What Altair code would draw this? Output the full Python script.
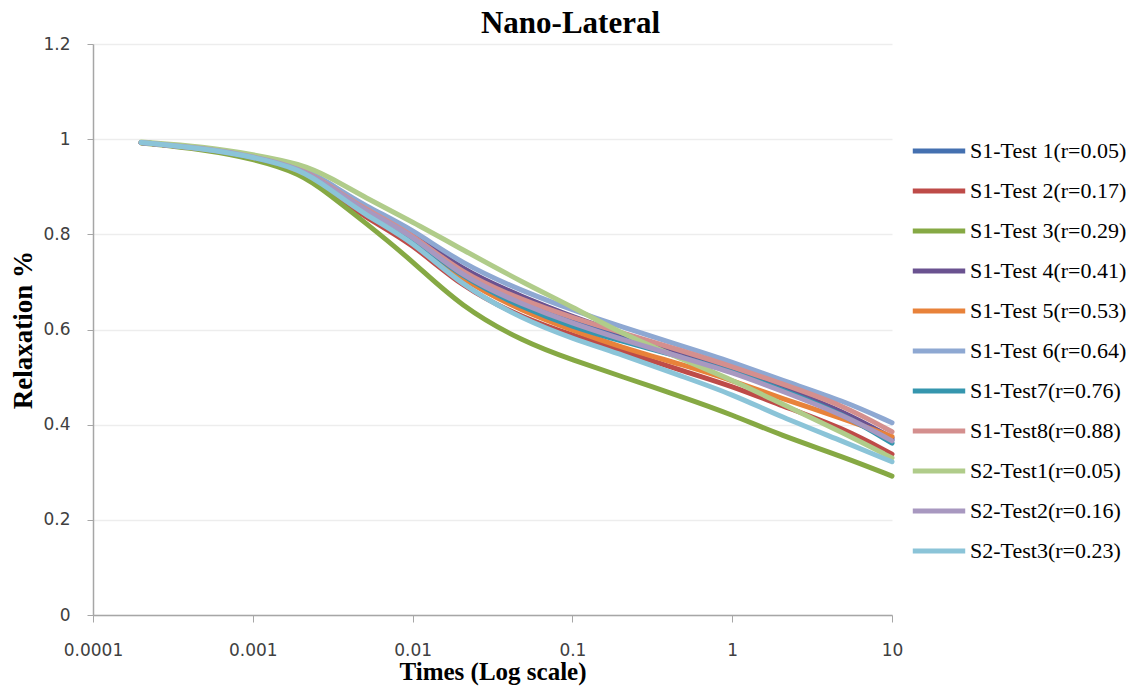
import altair as alt
import pandas as pd

times = [0.0002, 0.0005, 0.001, 0.002, 0.003, 0.005, 0.01, 0.02, 0.05, 0.1, 0.2, 0.5, 1, 2, 5, 10]

series_names = [
    "S1-Test 1(r=0.05)", "S1-Test 2(r=0.17)", "S1-Test 3(r=0.29)", "S1-Test 4(r=0.41)",
    "S1-Test 5(r=0.53)", "S1-Test 6(r=0.64)", "S1-Test7(r=0.76)", "S1-Test8(r=0.88)",
    "S2-Test1(r=0.05)", "S2-Test2(r=0.16)", "S2-Test3(r=0.23)",
]

colors = ["#4470B0", "#BE4B48", "#86A944", "#6A5290", "#E8823A", "#8EA8D2",
          "#3596AE", "#D48F8E", "#B0CC8A", "#A898C0", "#8BC4D8"]

s1_t1 = [0.993, 0.981, 0.964, 0.940, 0.903, 0.853, 0.798, 0.714, 0.655, 0.616, 0.585, 0.545, 0.512, 0.476, 0.425, 0.368]
s1_t2 = [0.993, 0.980, 0.962, 0.935, 0.893, 0.836, 0.781, 0.690, 0.623, 0.588, 0.556, 0.512, 0.481, 0.441, 0.392, 0.338]
s1_t3 = [0.992, 0.978, 0.959, 0.928, 0.884, 0.826, 0.744, 0.648, 0.573, 0.536, 0.502, 0.457, 0.421, 0.378, 0.332, 0.292]
s1_t4 = [0.993, 0.981, 0.964, 0.941, 0.906, 0.857, 0.806, 0.725, 0.667, 0.627, 0.592, 0.550, 0.518, 0.480, 0.428, 0.372]
s1_t5 = [0.993, 0.980, 0.963, 0.937, 0.898, 0.846, 0.791, 0.704, 0.637, 0.599, 0.563, 0.525, 0.493, 0.456, 0.412, 0.375]
s1_t6 = [0.993, 0.982, 0.965, 0.943, 0.908, 0.860, 0.811, 0.739, 0.679, 0.641, 0.606, 0.564, 0.532, 0.494, 0.450, 0.404]
s1_t7 = [0.993, 0.981, 0.963, 0.938, 0.899, 0.848, 0.794, 0.711, 0.644, 0.606, 0.576, 0.540, 0.512, 0.475, 0.422, 0.361]
s1_t8 = [0.993, 0.981, 0.964, 0.940, 0.903, 0.853, 0.801, 0.718, 0.660, 0.625, 0.594, 0.554, 0.522, 0.487, 0.440, 0.385]
s2_t1 = [0.994, 0.984, 0.968, 0.948, 0.921, 0.878, 0.826, 0.770, 0.697, 0.648, 0.592, 0.536, 0.494, 0.445, 0.382, 0.330]
s2_t2 = [0.993, 0.981, 0.964, 0.939, 0.901, 0.850, 0.799, 0.711, 0.651, 0.613, 0.580, 0.540, 0.510, 0.472, 0.420, 0.366]
s2_t3 = [0.993, 0.980, 0.963, 0.937, 0.896, 0.841, 0.786, 0.693, 0.620, 0.581, 0.548, 0.500, 0.464, 0.417, 0.364, 0.322]

all_values = [s1_t1, s1_t2, s1_t3, s1_t4, s1_t5, s1_t6, s1_t7, s1_t8, s2_t1, s2_t2, s2_t3]

x_ticks = [0.0001, 0.001, 0.01, 0.1, 1, 10]
y_ticks = [0, 0.2, 0.4, 0.6, 0.8, 1.0, 1.2]

rows = []
for name, vals in zip(series_names, all_values):
    for i, (t, v) in enumerate(zip(times, vals)):
        rows.append({"series": name, "time": t, "value": v, "idx": i})
df = pd.DataFrame(rows)

chart = alt.Chart(df).mark_line(
    interpolate="basis", strokeWidth=5, strokeCap="round", strokeJoin="round"
).encode(
    x=alt.X("time:Q",
            scale=alt.Scale(type="log", domain=[0.0001, 10], nice=False),
            axis=alt.Axis(values=x_ticks, format="~g", grid=False,
                          title="Times (Log scale)", titleFont="Liberation Serif",
                          titleFontSize=25, titleFontWeight="bold", titleColor="black",
                          titleBaseline="alphabetic", titleY=64,
                          labelFont="DejaVu Sans", labelFontSize=17, labelColor="#404040",
                          tickSize=7, labelPadding=20, tickColor="#A6A6A6",
                          domainColor="#A6A6A6", domainWidth=1.5, labelFlush=False)),
    y=alt.Y("value:Q",
            scale=alt.Scale(domain=[0, 1.2], nice=False),
            axis=alt.Axis(values=y_ticks, format="~g", grid=True, gridColor="#EDEDED",
                          gridWidth=1.5,
                          title="Relaxation %", titleFont="Liberation Serif",
                          titleFontSize=27, titleFontWeight="bold", titleColor="black",
                          titleBaseline="alphabetic", titleX=-62, titleAngle=-90,
                          labelFont="DejaVu Sans", labelFontSize=17, labelColor="#404040",
                          tickSize=6, labelPadding=17, tickColor="#A6A6A6",
                          domainColor="#A6A6A6", domainWidth=1.5)),
    color=alt.Color("series:N",
                    scale=alt.Scale(domain=series_names, range=colors),
                    sort=series_names,
                    legend=alt.Legend(title=None, orient="none", legendX=817, legendY=78,
                                      symbolType="stroke", symbolSize=2750,
                                      symbolStrokeWidth=5, labelFont="Liberation Serif",
                                      labelFontSize=22, labelColor="black",
                                      labelLimit=300, padding=0, rowPadding=-0.9,
                                      labelOffset=2)),
    order=alt.Order("idx:Q"),
).properties(
    width=799, height=571,
    title=alt.TitleParams("Nano-Lateral", font="Liberation Serif", fontSize=31,
                          fontWeight="bold", color="black", anchor="middle",
                          dx=78, dy=9, offset=4),
    autosize=alt.AutoSizeParams(type="none"),
    padding={"left": 93, "top": 44, "right": 241, "bottom": 72},
).configure_view(stroke=None)

chart.save("out.html", embed_options={"renderer": "svg", "actions": False})
